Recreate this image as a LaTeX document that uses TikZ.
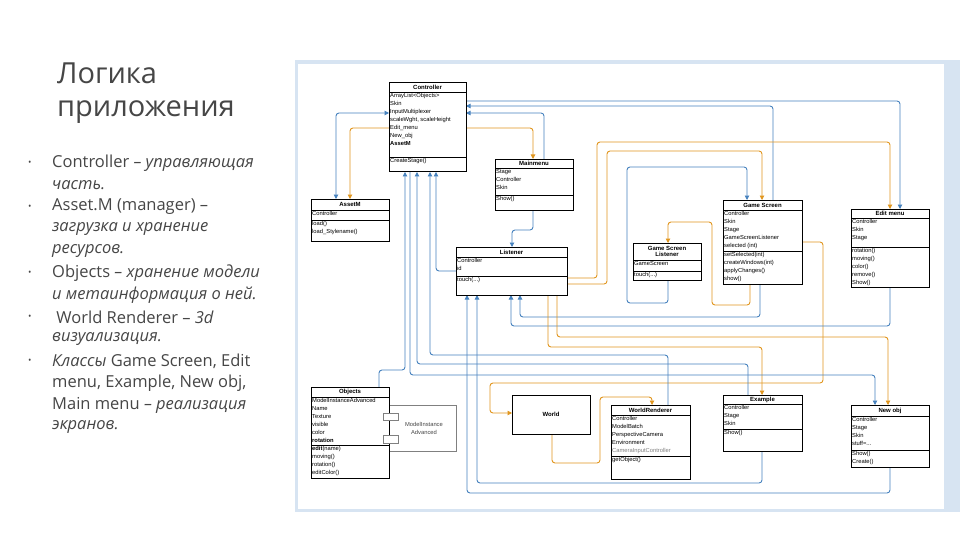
\documentclass[tikz,border=0pt]{standalone}
\usepackage{fontspec}
\setmainfont{Open Sans}
\newfontfamily\umlf{Liberation Sans}
\usetikzlibrary{arrows.meta}
\definecolor{bl}{RGB}{70,130,190}
\definecolor{og}{RGB}{225,150,30}
\definecolor{txt}{RGB}{70,70,70}
\definecolor{frame}{RGB}{215,228,242}
\newcommand\umlbox[9]{%
 \node[draw=black, line width=0.9pt, fill=white, anchor=north west, inner sep=0pt,
   minimum width={(#4-#2)*1pt}, minimum height={(#5-#3)*1pt}] (#1) at (#2,#3) {};
 \draw[line width=0.6pt] (#2,#6) -- (#4,#6);
 \draw[line width=0.6pt] (#2,#7) -- (#4,#7);
 \node[font=\umlf\fontsize{6}{6.5}\selectfont\bfseries, align=center, inner sep=0pt] (#1t) at ({(#2+#4)/2},{(#3+#6)/2}) {#8};
 \node[uml, anchor=north west] (#1a) at (#2,#6) {#9};}
\begin{document}
\begin{tikzpicture}[x=1pt,y=-1pt,
  uml/.style={font=\umlf\fontsize{5.8}{8}\selectfont, align=left, inner xsep=1pt, inner ysep=1.5pt},
  cb/.style={draw=bl, line width=0.9pt, rounded corners=3pt},
  co/.style={draw=og, line width=0.9pt, rounded corners=3pt},
  tip/.style={-{Triangle[width=4.5pt,length=4.5pt]}},
  ttl/.style={anchor=west, inner sep=0, font=\fontsize{29}{32}\selectfont, text=txt, text height=14pt, text depth=4pt},
  bul/.style={anchor=west, inner sep=0pt, font=\fontsize{16.5}{18}\selectfont, text=txt}]
\useasboundingbox (0,0) rectangle (960,540);
\fill[white] (0,0) rectangle (960,540);
\fill[frame] (295,60) rectangle (960,512);
\fill[white] (298,64) rectangle (944,509);

% left text
\node[ttl] (t1) at (57,79) {Логика};
\node[ttl] (t2) at (57,112) {приложения};
\foreach \y in {163,207,273,317,361} \node[bul, font=\fontsize{9}{9}\selectfont] at (28,\y) {•};
\node[bul] (l1) at (52,163) {Controller \textit{– управляющая}};
\node[bul] (l2) at (52,185) {\textit{часть.}};
\node[bul] (l3) at (52,207) {Asset.M (manager) –};
\node[bul] (l4) at (52,229) {\textit{загрузка и хранение}};
\node[bul] (l5) at (52,251) {\textit{ресурсов.}};
\node[bul] (l6) at (52,273) {Objects \textit{– хранение модели}};
\node[bul] (l7) at (52,295) {\textit{и метаинформация  о ней.}};
\node[bul] (l8) at (52,317) {\ World Renderer – \textit{3d}};
\node[bul] (l9) at (52,339) {\textit{визуализация.}};
\node[bul] (l10) at (52,361) {\textit{Классы} Game Screen, Edit};
\node[bul] (l11) at (52,383) {menu, Example, New obj,};
\node[bul] (l12) at (52,405) {Main menu \textit{– реализация}};
\node[bul] (l13) at (52,427) {\textit{экранов.}};

% connectors
\draw[cb, {Triangle[width=4.5pt,length=4.5pt]}-{Triangle[width=4.5pt,length=4.5pt]}] (389,113) -- (336,113) -- (336,199);
\draw[co, tip] (389,128) -- (350,128) -- (350,199);
\draw[co, tip] (466,128) -- (533,128) -- (533,159);
\draw[cb, tip] (544,159) -- (544,113) -- (466,113);
\draw[cb, tip] (773,200) -- (773,106) -- (466,106);
\draw[cb, tip] (466,101) -- (900,101) -- (900,209);
\draw[co, tip] (567,278) -- (597,278) -- (597,142) -- (890,142) -- (890,209);
\draw[co, tip] (567,284) -- (607,284) -- (607,151) -- (762,151) -- (762,200);
\draw[cb, tip] (668,280) -- (668,303) -- (627,303) -- (627,167) -- (747,167) -- (747,200);
\draw[co, tip] (750,284) -- (750,305) -- (712,305) -- (712,222) -- (668,222) -- (668,243);
\draw[co, tip] (802,242) -- (823,242) -- (823,383) -- (490,383) -- (490,413) -- (512,413);
\draw[co, tip] (552,434) -- (552,463) -- (600,463) -- (600,397) -- (652,397) -- (652,405);
\draw[cb, tip] (760,284) -- (760,317) -- (520,317) -- (520,295);
\draw[cb, tip] (890,287) -- (890,326) -- (511,326) -- (511,295);
\draw[co, tip] (548,295) -- (548,347) -- (762,347) -- (762,395);
\draw[co, tip] (557,295) -- (557,337) -- (888,337) -- (888,405);
\draw[cb, tip] (567,271) -- (436,271) -- (436,172);
\draw[cb, tip] (668,405) -- (668,355) -- (430,355) -- (430,172);
\draw[cb, tip] (748,395) -- (748,364) -- (417,364) -- (417,172);
\draw[cb, tip] (410,172) -- (410,375) -- (875,375) -- (875,405);
\draw[cb, tip] (379,387) -- (379,370) -- (405,370) -- (405,172);
\draw[cb, tip] (533,210) -- (533,230) -- (512,230) -- (512,247);
\draw[cb, tip] (890,467) -- (890,493) -- (467,493) -- (467,295);
\draw[cb, tip] (762,451) -- (762,483) -- (477,483) -- (477,295);

% boxes
\umlbox{ctrl}{389}{82}{466}{171}{92}{157}{Controller}{ArrayList<Objects>\\Skin\\InputMultiplexer\\scaleWght, scaleHeight\\Edit\_menu\\New\_obj\\\textbf{AssetM}}
\node[uml, anchor=north west] (ctrlm) at (389,157) {CreateStage()};
\umlbox{asset}{311}{199}{389}{241}{210}{220}{AssetM}{Controller}
\node[uml, anchor=north west] (assetm) at (311,220) {load()\\load\_Stylename()};
\umlbox{mm}{495}{159}{573}{210}{168}{195}{Mainmenu}{Stage\\Controller\\Skin}
\node[uml, anchor=north west] (mmm) at (495,195) {Show()};
\umlbox{lis}{456}{247}{567}{295}{257}{276}{Listener}{Controller\\id}
\node[uml, anchor=north west] (lism) at (456,276) {touch(...)};
\umlbox{gs}{723}{200}{802}{284}{210}{251}{Game Screen}{Controller\\Skin\\Stage\\GameScreenListener\\selected (int)}
\node[uml, anchor=north west] (gsm) at (723,251) {setSelected(int)\\createWindows(int)\\applyChanges()\\show()};
\umlbox{gsl}{633}{243}{701}{280}{260}{271}{Game Screen\\Listener}{GameScreen}
\node[uml, anchor=north west] (gslm) at (633,271) {touch(...)};
\umlbox{em}{851}{209}{929}{287}{218}{247}{Edit menu}{Controller\\Skin\\Stage}
\node[uml, anchor=north west] (emm) at (851,247) {rotation()\\moving()\\color()\\remove()\\Show()};
\node[draw=gray, fill=white, minimum width=67pt, minimum height=46pt, anchor=north west, inner sep=0] (mia) at (389,405) {};
\node[font=\umlf\fontsize{5.8}{8}\selectfont, align=center, text=txt] (miat) at (424,428) {ModelInstance\\Advanced};
\umlbox{obj}{311}{387}{389}{478}{397}{445}{Objects}{ModelInstanceAdvanced\\Name\\Texture\\visible\\color\\\textbf{rotation}}
\node[uml, anchor=north west] (objm) at (311,445) {\textbf{edit}(name)\\moving()\\rotation()\\editColor()};
\node[draw=gray, fill=white, minimum width=15pt, minimum height=7pt, inner sep=0, anchor=north west] (p1) at (383,413) {};
\node[draw=gray, fill=white, minimum width=15pt, minimum height=8pt, inner sep=0, anchor=north west] (p2) at (383,435) {};
\node[draw=black, line width=0.9pt, fill=white, minimum width=78pt, minimum height=39pt, anchor=north west, inner sep=0] (world) at (512,395) {};
\node[font=\umlf\fontsize{6}{7}\selectfont\bfseries] (worldt) at (551,414.5) {World};
\umlbox{wr}{611}{405}{690}{479}{415}{456}{WorldRenderer}{Controller\\ModelBatch\\PerspectiveCamera\\Environment\\\textcolor{gray}{CameraInputController}}
\node[uml, anchor=north west] (wrm) at (611,456) {getObject()};
\umlbox{ex}{723}{395}{802}{451}{404}{429}{Example}{Controller\\Stage\\Skin}
\node[uml, anchor=north west] (exm) at (723,429) {Show()};
\umlbox{no}{851}{405}{929}{467}{416}{450}{New obj}{Controller\\Stage\\Skin\\stuff=...}
\node[uml, anchor=north west] (nom) at (851,450) {Show()\\Create()};
\end{tikzpicture}
\end{document}
